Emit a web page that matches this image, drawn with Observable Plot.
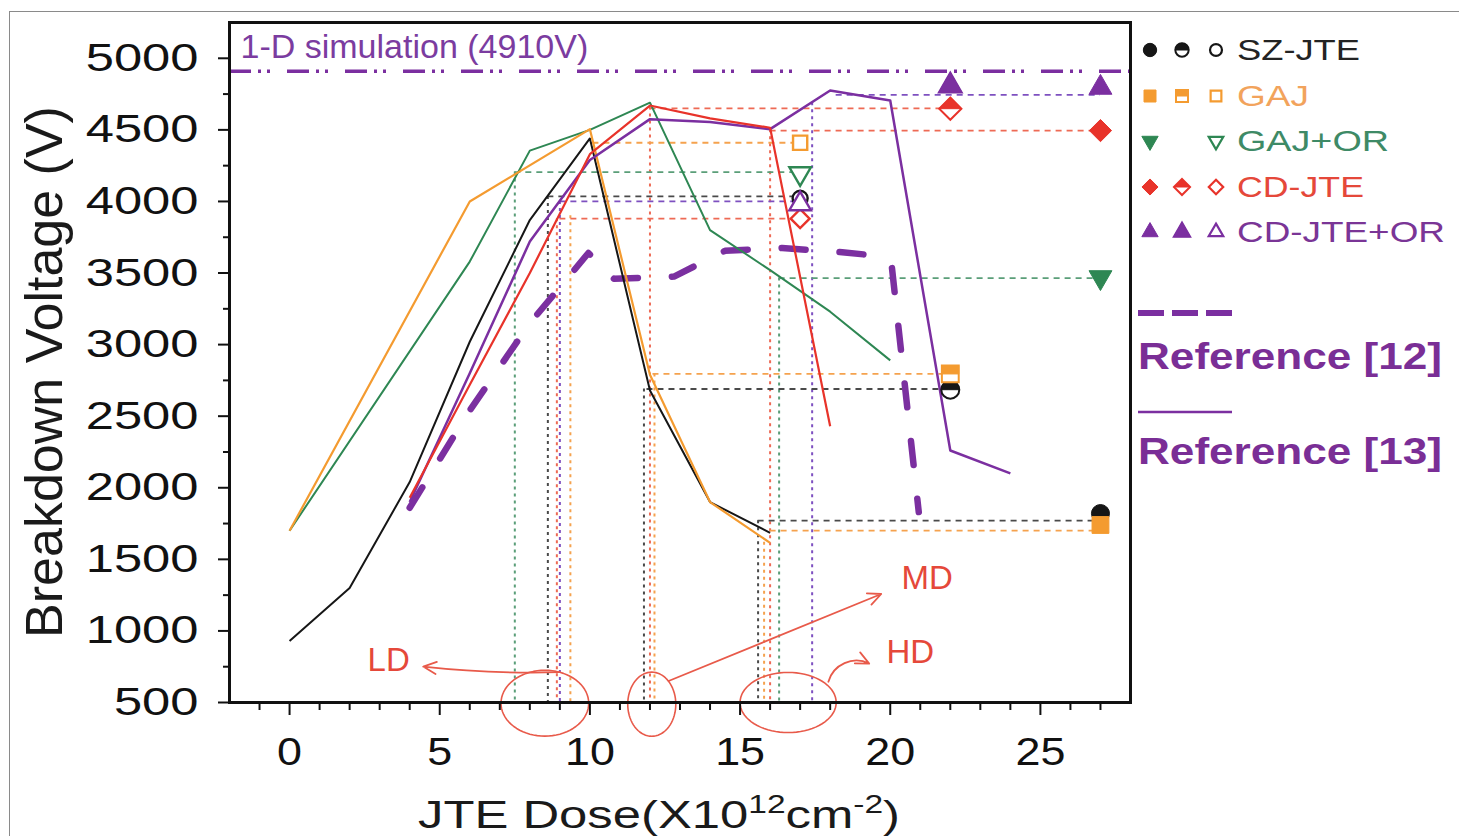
<!DOCTYPE html>
<html><head><meta charset="utf-8">
<script src="https://cdn.jsdelivr.net/npm/d3@7"></script>
<script src="https://cdn.jsdelivr.net/npm/@observablehq/plot@0.6"></script>
<style>
html,body{margin:0;padding:0;background:#fff;width:1459px;height:836px;overflow:hidden;font-family:"Liberation Sans",Arial,sans-serif;}
#wrap{position:relative;width:1459px;height:836px;overflow:hidden;}
#border{position:absolute;left:9px;top:11px;width:1470px;height:840px;border:1.5px solid #8a8a8a;box-sizing:border-box;}
.abs{position:absolute;white-space:nowrap;}
</style></head>
<body><div id="wrap"><div id="border"></div><div id="chart" style="position:absolute;left:0;top:0"></div></div>
<script>
// ---------------- data ----------------
const seriesNames = ["SZ-JTE", "GAJ", "GAJ+OR", "CD-JTE", "CD-JTE+OR"];

const doseSZ = [0, 2, 4, 6, 8, 10, 12, 14, 16];
const vSZ    = [930, 1300, 2040, 3020, 3870, 4440, 2680, 1900, 1685];

const doseGAJ = [0, 6, 10, 12, 14, 16];
const vGAJ    = [1700, 4000, 4505, 2790, 1900, 1615];

const doseGAJOR = [0, 6, 8, 10, 12, 14, 16, 18, 20];
const vGAJOR    = [1700, 3580, 4355, 4500, 4690, 3800, 3520, 3230, 2890];

const doseCD = [4, 6, 8, 10, 12, 14, 16, 18];
const vCD    = [1930, 2720, 3500, 4330, 4670, 4580, 4515, 2430];

const doseRef13 = [4, 6, 8, 10, 12, 14, 16, 18, 20, 22, 24];
const vRef13    = [1900, 2800, 3720, 4290, 4575, 4555, 4505, 4775, 4705, 2260, 2100];

const doseRef12 = [4, 6, 8, 9, 9.95, 10.8, 12.8, 14.5, 16.4, 18.4, 19.6, 20.05, 20.95];
const vRef12    = [1860, 2540, 3150, 3400, 3640, 3460, 3475, 3655, 3675, 3645, 3620, 3550, 1830];

const simV = 4910;

// device markers: open (x=17), half-filled (x=22), filled (x=27)
const markerDose = [17, 22, 27];
const openV   = [4022, 4410, 4195, 3880, 3982];
const halfV   = [2685, 2795, null, 4648, 4808];
const filledV = [1820, 1740, 3470, 4495, 4795];

// dashed guide lines
const hGuideSeries = ["CD-JTE+OR","CD-JTE","CD-JTE","GAJ","GAJ+OR","SZ-JTE","CD-JTE+OR","CD-JTE","GAJ+OR","GAJ","SZ-JTE","SZ-JTE","GAJ"];
const hGuideFrom   = [18.2, 12, 16, 10.1, 7.5, 8.6, 9.0, 9.0, 16.3, 12.1, 11.9, 15.6, 16.0];
const hGuideTo     = [27, 22, 27, 17, 17, 17, 17, 17, 27, 22, 22, 27, 27];
const hGuideV      = [4745, 4650, 4495, 4410, 4205, 4035, 4000, 3880, 3465, 2795, 2690, 1770, 1700];

const vGuideSeries = ["GAJ+OR","SZ-JTE","CD-JTE","CD-JTE+OR","GAJ","SZ-JTE","CD-JTE","GAJ","SZ-JTE","GAJ","CD-JTE","GAJ+OR","CD-JTE+OR"];
const vGuideDose   = [7.5, 8.6, 8.9, 9.0, 9.35, 11.8, 12.0, 12.15, 15.6, 15.8, 16.0, 16.3, 17.4];
const vGuideTop    = [4205, 4035, 3880, 4000, 3900, 2690, 4660, 2795, 1770, 1620, 4500, 3465, 4690];

// annotations (LD / MD / HD)
const zoneNames = ["LD", "MD", "HD"];
const zoneCx = [8.5, 12.06, 16.6];
const zoneCy = [495, 488, 500];
const zoneRx = [1.46, 0.8, 1.6];
const zoneRy = [230, 224, 210];
const zoneArrowX1 = [9.0, 12.62, 17.94];
const zoneArrowY1 = [712, 650, 645];
const zoneArrowX2 = [4.45, 19.7, 19.3];
const zoneArrowY2 = [751, 1258, 772];
const zoneArrowBend = [4, 0, 50];
const zoneLabelX = [3.3, 21.23, 20.67];
const zoneLabelY = [793, 1366, 849];

const xTicks = [0, 5, 10, 15, 20, 25];
const yTicks = [500, 1000, 1500, 2000, 2500, 3000, 3500, 4000, 4500, 5000];
const xMinor = [-1,1,2,3,4,6,7,8,9,11,12,13,14,16,17,18,19,21,22,23,24,26,27];
const yMinor = [750,1250,1750,2250,2750,3250,3750,4250,4750];

// ---------------- styles ----------------
const color = {"SZ-JTE":"#161616","GAJ":"#F49B30","GAJ+OR":"#2E8753","CD-JTE":"#E8332A","CD-JTE+OR":"#7B2FA0"};
const guideColor = {"SZ-JTE":"#4a4a4a","GAJ":"#F5A24E","GAJ+OR":"#5A9E78","CD-JTE":"#EE6A55","CD-JTE+OR":"#7E50C0"};
const purple = "#7B2FA0";
const annotRed = "#E85A4A";

const halfCircle = {draw(ctx, size){const r=Math.sqrt(size/Math.PI); ctx.moveTo(r,0); ctx.arc(0,0,r,0,Math.PI,true); ctx.closePath();}};
const halfSquare = {draw(ctx, size){const w=Math.sqrt(size)/2; ctx.moveTo(-w,-w); ctx.lineTo(w,-w); ctx.lineTo(w,0); ctx.lineTo(-w,0); ctx.closePath();}};
const halfDiamond = {draw(ctx, size){const r=Math.sqrt(size)*0.62625; ctx.moveTo(-r,0); ctx.lineTo(0,-r); ctx.lineTo(r,0); ctx.closePath();}};

const symFull = {"SZ-JTE":"circle","GAJ":"square","GAJ+OR":"triangle","CD-JTE":"diamond2","CD-JTE+OR":"triangle"};
const symHalf = {"SZ-JTE":halfCircle,"GAJ":halfSquare,"GAJ+OR":null,"CD-JTE":halfDiamond,"CD-JTE+OR":"triangle"};
const symRot = {"SZ-JTE":0,"GAJ":0,"GAJ+OR":180,"CD-JTE":0,"CD-JTE+OR":0};
const symR = {"SZ-JTE":9,"GAJ":9.5,"GAJ+OR":8.5,"CD-JTE":10,"CD-JTE+OR":8.5};
const symROpen = {"SZ-JTE":7.5,"GAJ":8,"GAJ+OR":8,"CD-JTE":8.5,"CD-JTE+OR":8};

// ---------------- build ----------------
const rows = (xs, ys) => xs.map((x, i) => ({dose: x, v: ys[i]}));
const curves = [
  {data: rows(doseRef12, vRef12), stroke: purple, w: 6.5, dash: "24,34", cap: "round"},
  {data: rows(doseGAJOR, vGAJOR), stroke: color["GAJ+OR"], w: 2},
  {data: rows(doseSZ, vSZ), stroke: color["SZ-JTE"], w: 2},
  {data: rows(doseGAJ, vGAJ), stroke: color["GAJ"], w: 2.2},
  {data: rows(doseRef13, vRef13), stroke: purple, w: 2.5},
  {data: rows(doseCD, vCD), stroke: color["CD-JTE"], w: 2.2}
];

const hGuides = hGuideSeries.map((s, i) => ({series: s, x1: hGuideFrom[i], x2: hGuideTo[i], v: hGuideV[i]}));
const vGuides = vGuideSeries.map((s, i) => ({series: s, dose: vGuideDose[i], top: vGuideTop[i]}));

const ellipses = [];
zoneNames.forEach((n, i) => {
  for (let a = 0; a <= 360; a += 5) {
    const t = a * Math.PI / 180;
    ellipses.push({zone: n, dose: zoneCx[i] + zoneRx[i] * Math.cos(t), v: zoneCy[i] + zoneRy[i] * Math.sin(t)});
  }
});
const arrowMarks = zoneNames.map((n, i) => Plot.arrow([{x1: zoneArrowX1[i], y1: zoneArrowY1[i], x2: zoneArrowX2[i], y2: zoneArrowY2[i]}],
  {x1: "x1", y1: "y1", x2: "x2", y2: "y2", stroke: annotRed, strokeWidth: 1.8, headLength: 12, headAngle: 50, bend: zoneArrowBend[i]}));
const zoneLabels = zoneNames.map((n, i) => ({zone: n, dose: zoneLabelX[i], v: zoneLabelY[i]}));

const markerMarks = [];
seriesNames.forEach((s, i) => {
  const c = color[s];
  markerMarks.push(Plot.dot([{dose: markerDose[0], v: openV[i]}], {x: "dose", y: "v", symbol: symFull[s], r: symROpen[s], rotate: symRot[s], fill: "white", stroke: c, strokeWidth: 2.4}));
  if (halfV[i] != null) {
    markerMarks.push(Plot.dot([{dose: markerDose[1], v: halfV[i]}], {x: "dose", y: "v", symbol: symFull[s], r: symR[s], rotate: symRot[s], fill: "white", stroke: c, strokeWidth: 2}));
    markerMarks.push(Plot.dot([{dose: markerDose[1], v: halfV[i]}], {x: "dose", y: "v", symbol: symHalf[s], r: symR[s], rotate: symRot[s], fill: c, stroke: c, strokeWidth: 1}));
  }
  markerMarks.push(Plot.dot([{dose: markerDose[2], v: filledV[i]}], {x: "dose", y: "v", symbol: symFull[s], r: symR[s], rotate: symRot[s], fill: c, stroke: c, strokeWidth: 1}));
});

const plot = Plot.plot({
  width: 1459, height: 836,
  marginLeft: 229, marginRight: 329, marginTop: 22, marginBottom: 134,
  style: {fontFamily: '"Liberation Sans", Arial, sans-serif', background: "transparent", overflow: "visible", color: "#111"},
  x: {domain: [-2, 28], label: null},
  y: {domain: [500, 5250], label: null},
  color: {type: "identity"},
  marks: [
    Plot.ruleX(vGuides, {x: "dose", y1: "top", y2: () => yTicks[0], stroke: d => guideColor[d.series], strokeWidth: 2, strokeDasharray: "3,4"}),
    Plot.ruleY(hGuides, {y: "v", x1: "x1", x2: "x2", stroke: d => guideColor[d.series], strokeWidth: 1.8, strokeDasharray: "6,5"}),
    Plot.ruleY([simV], {stroke: purple, strokeWidth: 3.5, strokeDasharray: "22,7,3,6,3,17"}),
    Plot.text([simV], {y: d => d, frameAnchor: "left", dx: 11, dy: -24, text: d => `1-D simulation (${d}V)`, textAnchor: "start", fontSize: 34, fill: "#7B3CA0", ariaLabel: "sim-label"}),
    ...curves.map(c => Plot.line(c.data, {x: "dose", y: "v", stroke: c.stroke, strokeWidth: c.w, strokeDasharray: c.dash || null, strokeLinecap: c.cap || "butt", strokeLinejoin: "round"})),
    ...markerMarks,
    Plot.line(ellipses, {x: "dose", y: "v", z: "zone", stroke: annotRed, strokeWidth: 1.6, curve: "linear-closed"}),
    ...arrowMarks,
    Plot.text(zoneLabels, {x: "dose", y: "v", text: "zone", fontSize: 33, fill: "#E5483A", ariaLabel: "zone-label"}),
    Plot.frame({stroke: "#111", strokeWidth: 3}),
    Plot.axisY({ticks: yMinor, tickSize: 6, tickFormat: () => "", strokeWidth: 2, label: null}),
    Plot.axisY({ticks: yTicks, tickSize: 11, tickPadding: 20, fontSize: 39, strokeWidth: 2, tickFormat: d => String(d), label: null}),
    Plot.axisX({ticks: xMinor, tickSize: 8, tickFormat: () => "", strokeWidth: 2, label: null}),
    Plot.axisX({ticks: xTicks, tickSize: 13, tickPadding: 22, fontSize: 39, strokeWidth: 2, tickFormat: d => String(d), label: null})
  ]
});
document.getElementById("chart").appendChild(plot);

function stretch(selector, factor) {
  plot.querySelectorAll(selector).forEach(t => {
    const w = t.getComputedTextLength();
    if (w > 0) { t.setAttribute("textLength", w * factor); t.setAttribute("lengthAdjust", "spacingAndGlyphs"); }
  });
}
stretch('g[aria-label="y-axis tick label"] text', 1.3);
stretch('g[aria-label="x-axis tick label"] text', 1.15);
stretch('g[aria-label="sim-label"] text', 1.13);
stretch('g[aria-label="zone-label"] text', 1.08);

// ---------------- HTML titles & legend ----------------
const wrap = document.getElementById("wrap");
function addDiv(html, css) {
  const d = document.createElement("div");
  d.className = "abs";
  d.innerHTML = html;
  Object.assign(d.style, css);
  wrap.appendChild(d);
  return d;
}
function fitWidth(el, target) {
  const w = el.getBoundingClientRect().width;
  el.style.transformOrigin = "left center";
  el.style.transform = `scaleX(${target / w})`;
}

addDiv("Breakdown Voltage (V)", {left: "44px", top: "372px", fontSize: "52px", lineHeight: "52px", color: "#1a1a1a", transform: "translate(-50%,-50%) rotate(-90deg)"});
const xt = addDiv('JTE Dose(X10<span style="position:relative;top:-0.6em;font-size:0.66em">12</span>cm<span style="position:relative;top:-0.6em;font-size:0.66em">-2</span>)', {left: "418px", top: "795px", fontSize: "39px", lineHeight: "39px", color: "#1a1a1a"});
fitWidth(xt, 482);

const legendTextColor = ["#232323", "#F2A35C", "#3E8A66", "#E5483A", "#7A3596"];
const legendTextWidth = [123, 72, 152, 127, 208];
const legSize = {"SZ-JTE": 140, "GAJ": 144, "GAJ+OR": 115, "CD-JTE": 165, "CD-JTE+OR": 115};
function symPath(type, size) {
  const t = typeof type === "string" ? {circle: d3.symbolCircle, square: d3.symbolSquare, triangle: d3.symbolTriangle, diamond2: d3.symbolDiamond2}[type] : type;
  return d3.symbol(t, size)();
}
seriesNames.forEach((s, i) => {
  const cy = 50 + i * 45.5;
  const c = color[s];
  const rot = symRot[s] ? ` rotate(${symRot[s]})` : "";
  const sz = legSize[s];
  let svg = `<svg width="100" height="30" style="overflow:visible">`;
  svg += `<path transform="translate(15,15)${rot}" d="${symPath(symFull[s], sz)}" fill="${c}" stroke="${c}" stroke-width="1"/>`;
  if (symHalf[s]) {
    svg += `<path transform="translate(47,15)${rot}" d="${symPath(symFull[s], sz)}" fill="white" stroke="${c}" stroke-width="2"/>`;
    svg += `<path transform="translate(47,15)${rot}" d="${symPath(symHalf[s], sz)}" fill="${c}" stroke="${c}" stroke-width="1"/>`;
  }
  svg += `<path transform="translate(81,15)${rot}" d="${symPath(symFull[s], sz * 0.8)}" fill="white" stroke="${c}" stroke-width="2.2"/>`;
  svg += `</svg>`;
  addDiv(svg, {left: "1135px", top: (cy - 15) + "px", lineHeight: "0"});
  const t = addDiv(s, {left: "1237px", top: (cy - 15) + "px", fontSize: "30px", lineHeight: "30px", color: legendTextColor[i]});
  fitWidth(t, legendTextWidth[i]);
});
addDiv(`<svg width="100" height="10"><line x1="3" y1="5" x2="97" y2="5" stroke="${purple}" stroke-width="6" stroke-dasharray="26,8"/></svg>`, {left: "1135px", top: "308px", lineHeight: "0"});
const r12 = addDiv("Reference [12]", {left: "1138px", top: "338px", fontSize: "37px", lineHeight: "37px", fontWeight: "bold", color: "#7A2E96"});
fitWidth(r12, 304);
addDiv(`<svg width="100" height="10"><line x1="3" y1="5" x2="97" y2="5" stroke="${purple}" stroke-width="2.5"/></svg>`, {left: "1135px", top: "407px", lineHeight: "0"});
const r13 = addDiv("Reference [13]", {left: "1138px", top: "433px", fontSize: "37px", lineHeight: "37px", fontWeight: "bold", color: "#7A2E96"});
fitWidth(r13, 304);
</script></body></html>
